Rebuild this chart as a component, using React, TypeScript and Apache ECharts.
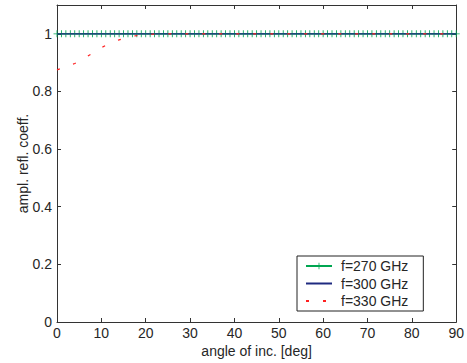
import React, { useEffect, useRef } from "react";
import * as echarts from "echarts";

const angles = [0,1,2,3,4,5,6,7,8,9,10,11,12,13,14,15,16,17,18,19,20,21,22,23,24,25,26,27,28,29,30,31,32,33,34,35,36,37,38,39,40,41,42,43,44,45,46,47,48,49,50,51,52,53,54,55,56,57,58,59,60,61,62,63,64,65,66,67,68,69,70,71,72,73,74,75,76,77,78,79,80,81,82,83,84,85,86,87,88,89,90];
const f270 = [1,1,1,1,1,1,1,1,1,1,1,1,1,1,1,1,1,1,1,1,1,1,1,1,1,1,1,1,1,1,1,1,1,1,1,1,1,1,1,1,1,1,1,1,1,1,1,1,1,1,1,1,1,1,1,1,1,1,1,1,1,1,1,1,1,1,1,1,1,1,1,1,1,1,1,1,1,1,1,1,1,1,1,1,1,1,1,1,1,1,1];
const f300Angles = [0, 90];
const f300 = [1, 1];
const f330Angles = [0, 2, 4, 6, 8, 10, 12, 14, 16, 18, 20, 25, 30, 40, 50, 60, 70, 80, 90];
const f330 = [0.875, 0.885, 0.897, 0.914, 0.933, 0.952, 0.967, 0.979, 0.988, 0.994, 0.998, 1, 1, 1, 1, 1, 1, 1, 1];
const xTicks = [0, 10, 20, 30, 40, 50, 60, 70, 80, 90];
const seriesNames = ["f=270 GHz", "f=300 GHz", "f=330 GHz"];

const FONT = "'Liberation Sans', Arial, sans-serif";
const TXT = "#262626";

export default function App() {
  const ref = useRef<HTMLDivElement>(null);
  useEffect(() => {
    if (!ref.current) return;
    const chart = echarts.init(ref.current, undefined, { renderer: "svg" });
    const plus = "path://M-0.12,-1H0.12V-0.12H1V0.12H0.12V1H-0.12V0.12H-1V-0.12H-0.12Z";
    const xAxisBase = {
      type: "value",
      min: 0,
      max: 90,
      interval: 10,
      axisLine: { show: true, onZero: false, lineStyle: { color: "#333", width: 1 } },
      axisTick: { show: true, inside: true, length: 4, lineStyle: { color: "#333" } },
      splitLine: { show: false },
    };
    const yAxisBase = {
      type: "value",
      min: 0,
      max: 1.1,
      interval: 0.2,
      axisLine: { show: true, onZero: false, lineStyle: { color: "#333", width: 1 } },
      axisTick: { show: true, inside: true, length: 4, lineStyle: { color: "#333" } },
      splitLine: { show: false },
    };
    chart.setOption({
      animation: false,
      backgroundColor: "#fff",
      grid: { left: 57, right: 7, top: 5, bottom: 40, containLabel: false },
      legend: {
        show: true,
        orient: "vertical",
        left: 297,
        top: 256,
        padding: [3, 15, 3, 8],
        itemGap: 3.5,
        itemWidth: 26,
        itemHeight: 8,
        backgroundColor: "#fff",
        borderColor: "#222",
        borderWidth: 1,
        borderRadius: 0,
        textStyle: { fontFamily: FONT, fontSize: 14, lineHeight: 14, color: TXT, padding: [0, 0, 0, 4] },
        data: [
          { name: seriesNames[0] },
          { name: seriesNames[1], itemStyle: { opacity: 0 } },
          { name: seriesNames[2], itemStyle: { opacity: 0 } },
        ],
      },
      xAxis: [
        {
          ...xAxisBase,
          position: "bottom",
          name: "angle of inc. [deg]",
          nameLocation: "middle",
          nameGap: 22,
          nameMoveOverlap: false,
          nameTextStyle: { fontFamily: FONT, fontSize: 14, color: TXT },
          axisLabel: {
            fontFamily: FONT, fontSize: 14, color: TXT, margin: 4,
            formatter: (v: number) => (xTicks.includes(v) ? String(v) : ""),
          },
        },
        { ...xAxisBase, position: "top", axisLabel: { show: false } },
      ],
      yAxis: [
        {
          ...yAxisBase,
          position: "left",
          name: "ampl. refl. coeff.",
          nameLocation: "middle",
          nameGap: 27,
          nameMoveOverlap: false,
          nameTextStyle: { fontFamily: FONT, fontSize: 14, color: TXT },
          axisLabel: {
            fontFamily: FONT, fontSize: 14, color: TXT, margin: 5,
            formatter: (v: number) => (v > 1.05 ? "" : String(Math.round(v * 10) / 10)),
          },
        },
        { ...yAxisBase, position: "right", axisLabel: { show: false } },
      ],
      series: [
        {
          name: seriesNames[0],
          type: "line",
          data: angles.map((a, i) => [a, f270[i]]),
          symbol: plus,
          symbolSize: 7,
          showSymbol: true,
          lineStyle: { color: "#00a651", width: 1 },
          itemStyle: { color: "#00a651" },
          z: 2,
        },
        {
          name: seriesNames[1],
          type: "line",
          data: f300Angles.map((a, i) => [a, f300[i]]),
          symbol: "none",
          lineStyle: { color: "#1f2a80", width: 1.2 },
          itemStyle: { color: "#1f2a80" },
          z: 3,
        },
        {
          name: seriesNames[2],
          type: "line",
          data: f330Angles.map((a, i) => [a, f330[i]]),
          symbol: "none",
          lineStyle: { color: "#ff2020", width: 1.2, type: [3, 14] },
          itemStyle: { color: "#ff2020" },
          z: 4,
        },
      ],
    });
    return () => chart.dispose();
  }, []);
  return (
    <div
      ref={ref}
      style={{ position: "fixed", left: 0, top: 0, width: 467, height: 363, background: "#fff" }}
    />
  );
}
